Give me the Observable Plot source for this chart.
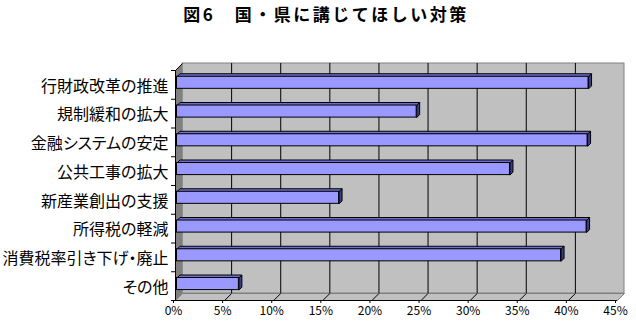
<!DOCTYPE html>
<html><head><meta charset="utf-8">
<script src="https://cdn.jsdelivr.net/npm/d3@7"></script>
<script src="https://cdn.jsdelivr.net/npm/@observablehq/plot@0.6"></script>
<style>
html,body{margin:0;padding:0;background:#fff;}
body{width:636px;height:331px;overflow:hidden;font-family:"Noto Sans CJK JP",sans-serif;}
#title{height:30px;line-height:27px;font-size:17px;font-weight:bold;letter-spacing:2.5px;text-align:center;padding-left:16px;color:#000;white-space:nowrap;box-sizing:border-box;}
#chart svg{display:block;}
#chart svg text{font-feature-settings:"palt";}
</style></head>
<body>
<div id="title">図6　国・県に講じてほしい対策</div>
<div id="chart"></div>
<script>
const categories = ["行財政改革の推進","規制緩和の拡大","金融システムの安定","公共工事の拡大","新産業創出の支援","所得税の軽減","消費税率引き下げ・廃止","その他"];
const values = [41.9, 24.4, 41.8, 33.9, 16.5, 41.7, 39.1, 6.3];
const xTicks = [0,5,10,15,20,25,30,35,40,45];
const tickLabels = ["0%","5%","10%","15%","20%","25%","30%","35%","40%","45%"];

const W = 636, H = 301, ML = 175, MR = 19, MT = 40, MB = 31;
const N = categories.length, XMAX = 45;
const pxX = (W - ML - MR) / XMAX, pxY = (H - MT - MB) / N;
// 3D depth (pixels) converted to data units
const wall = 7, wx = wall / pxX, wy = wall / pxY;
const d0x = 1.5 / pxX, d0y = 1.5 / pxY, d1x = 4.5 / pxX, d1y = 4.5 / pxY;
const a = 0.27, b = 0.69;

const rows = categories.map((c, i) => ({c, i, v: values[i]}));
const inner = xTicks.filter(t => t > 0 && t < XMAX);
const bounds = d3.range(0, N + 1);

const leftWall = [{x:0,y:0},{x:wx,y:-wy},{x:wx,y:N-wy},{x:0,y:N}];
const floor = [{x:0,y:N},{x:wx,y:N-wy},{x:XMAX+wx,y:N-wy},{x:XMAX,y:N},{x:0,y:N}];

const topFaces = rows.flatMap(r => [
  {i:r.i, x:d0x, y:r.i+a-d0y},
  {i:r.i, x:r.v+d0x, y:r.i+a-d0y},
  {i:r.i, x:r.v+d1x, y:r.i+a-d1y},
  {i:r.i, x:d1x, y:r.i+a-d1y},
  {i:r.i, x:d0x, y:r.i+a-d0y}
]);
const sideFaces = rows.flatMap(r => [
  {i:r.i, x:r.v+d0x, y:r.i+a-d0y},
  {i:r.i, x:r.v+d1x, y:r.i+a-d1y},
  {i:r.i, x:r.v+d1x, y:r.i+b-d1y},
  {i:r.i, x:r.v+d0x, y:r.i+b-d0y},
  {i:r.i, x:r.v+d0x, y:r.i+a-d0y}
]);

const chart = Plot.plot({
  width: W, height: H,
  marginLeft: ML, marginRight: MR, marginTop: MT, marginBottom: MB,
  style: {fontFamily: '"Noto Sans CJK JP", sans-serif', fontSize: "12px", background: "#fff", color: "#000", overflow: "visible"},
  x: {domain: [0, XMAX]},
  y: {domain: [0, N], reverse: true},
  marks: [
    // back wall
    Plot.rect([0], {x1: wx, x2: XMAX + wx, y1: -wy, y2: N - wy, fill: "#c0c0c0", stroke: "#808080"}),
    // gridlines on back wall
    Plot.ruleX(inner, {x: d => d + wx, y1: -wy, y2: N - wy, stroke: "#000", strokeWidth: 1}),
    // floor
    Plot.line(floor, {x: "x", y: "y", fill: "#c0c0c0", stroke: "#808080", strokeWidth: 1, strokeLinejoin: "miter"}),
    Plot.link(inner, {x1: d => d + wx, y1: N - wy, x2: d => d, y2: N, stroke: "#000", strokeWidth: 1}),
    // left wall
    Plot.line(leftWall, {x: "x", y: "y", fill: "#808080", stroke: "none"}),
    Plot.link([0], {x1: 0, y1: 0, x2: wx, y2: -wy, stroke: "#000", strokeWidth: 1}),
    // bars (3D)
    Plot.line(topFaces, {x: "x", y: "y", z: "i", fill: "#6e6ecc", stroke: "#000", strokeWidth: 1, strokeLinejoin: "miter"}),
    Plot.line(sideFaces, {x: "x", y: "y", z: "i", fill: "#3c3c85", stroke: "#000", strokeWidth: 1, strokeLinejoin: "miter"}),
    Plot.rect(rows, {x1: d0x, x2: d => d.v + d0x, y1: d => d.i + a - d0y, y2: d => d.i + b - d0y, fill: "#9999ff", stroke: "#000", strokeWidth: 1}),
    // axes lines
    Plot.ruleX([0], {y1: 0, y2: N, stroke: "#000", strokeWidth: 1}),
    Plot.ruleY([N], {x1: 0, x2: XMAX, stroke: "#000", strokeWidth: 1}),
    Plot.axisY({ticks: bounds, tickSize: 4, tickFormat: () => "", label: null, anchor: "left"}),
    Plot.axisX({ticks: xTicks, tickSize: 3, tickPadding: 3, tickFormat: d => tickLabels[xTicks.indexOf(d)], label: null, fontSize: 12, dx: -2, anchor: "bottom"}),
    // category labels
    Plot.text(rows, {x: 0, y: d => d.i + 0.5, text: "c", textAnchor: "end", dx: -7, dy: 1.5, fontSize: 16, fill: "#000"})
  ]
});
document.getElementById("chart").appendChild(chart);
</script>
</body></html>
